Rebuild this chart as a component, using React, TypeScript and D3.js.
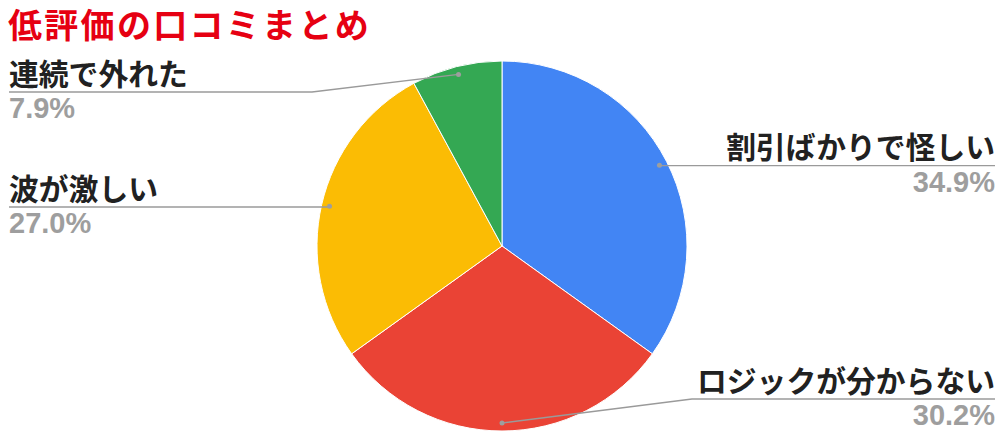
import React from "react";
import * as d3 from "d3";

const title = "低評価の口コミまとめ";
const categories = ["割引ばかりで怪しい", "ロジックが分からない", "波が激しい", "連続で外れた"];
const values = [34.9, 30.2, 27.0, 7.9];
const percentLabels = ["34.9%", "30.2%", "27.0%", "7.9%"];
const colors = ["#4285f4", "#ea4335", "#fbbc04", "#34a853"];

// layout: label side, horizontal leader y, elbow x (null = straight from dot)
const labelSide = ["right", "right", "left", "left"];
const labelLineY = [165.7, 399, 207, 92];
const labelElbowX: (number | null)[] = [null, 692, null, 312];

const W = 1005;
const H = 438;
const cx = 502;
const cy = 246;
const R = 185;

export default function App() {
  const pie = d3.pie<number>().sort(null).value((d) => d).startAngle(0).endAngle(2 * Math.PI);
  const arcs = pie(values);
  const arc = d3.arc<d3.PieArcDatum<number>>().innerRadius(0).outerRadius(R);
  const dotArc = d3.arc<d3.PieArcDatum<number>>().innerRadius(177).outerRadius(177);

  const fontLabel = "Roboto, 'Noto Sans CJK JP', sans-serif";
  const fontPct = "'Liberation Sans', Arial, sans-serif";

  return (
    <svg
      width={W}
      height={H}
      style={{ position: "absolute", left: 0, top: 0, background: "#fff" }}
    >
      <text
        x={8}
        y={37.5}
        fill="#e60012"
        fontSize={34}
        fontWeight={700}
        letterSpacing={2.3}
        fontFamily="'Noto Sans CJK JP', sans-serif"
      >
        {title}
      </text>
      <g transform={`translate(${cx},${cy})`}>
        {arcs.map((a, i) => (
          <path key={i} d={arc(a) || ""} fill={colors[i]} stroke="#fff" strokeWidth={1} />
        ))}
      </g>
      {arcs.map((a, i) => {
        const [dx, dy] = dotArc.centroid(a);
        const px = cx + dx;
        const py = cy + dy;
        const ly = labelLineY[i];
        const ex = labelElbowX[i];
        const right = labelSide[i] === "right";
        const endX = right ? 995 : 9;
        let d: string;
        if (ex === null) {
          d = `M${px},${ly}L${endX},${ly}`;
        } else {
          d = `M${px},${py}L${ex},${ly}L${endX},${ly}`;
        }
        const tx = right ? 995 : 9;
        const anchor = right ? "end" : "start";
        return (
          <g key={i}>
            <path d={d} fill="none" stroke="#9a9a9a" strokeWidth={1.3} />
            <circle cx={px} cy={py} r={2.5} fill="#9e9e9e" />
            <text
              x={tx}
              y={ly - 7.5}
              textAnchor={anchor}
              fontSize={29.8}
              fontWeight={700}
              fill="#212121"
              fontFamily={fontLabel}
            >
              {categories[i]}
            </text>
            <text
              x={tx}
              y={ly + 26}
              textAnchor={anchor}
              fontSize={29}
              fontWeight={700}
              fill="#9e9e9e"
              fontFamily={fontPct}
            >
              {percentLabels[i]}
            </text>
          </g>
        );
      })}
    </svg>
  );
}
